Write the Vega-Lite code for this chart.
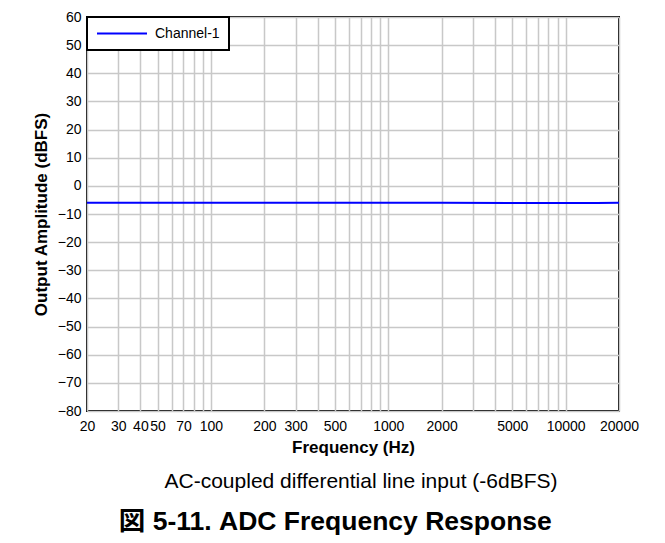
{
  "$schema": "https://vega.github.io/schema/vega-lite/v6.json",
  "autosize": {"type": "pad"},
  "padding": {"left": 31, "top": 9, "right": 10, "bottom": 5},
  "background": "white",
  "title": {
    "text": "図 5-11. ADC Frequency Response",
    "orient": "bottom",
    "anchor": "middle",
    "frame": "bounds",
    "dx": 0,
    "offset": 16,
    "fontSize": 26.5,
    "fontWeight": "bold",
    "font": "Liberation Sans, Noto Sans CJK JP",
    "color": "black"
  },
  "vconcat": [
    {
      "width": 532,
      "height": 394,
      "data": {
        "values": [
          {"freq": 20, "amp": -6.0, "series": "Channel-1"},
          {"freq": 50, "amp": -6.0, "series": "Channel-1"},
          {"freq": 100, "amp": -6.0, "series": "Channel-1"},
          {"freq": 200, "amp": -6.0, "series": "Channel-1"},
          {"freq": 500, "amp": -6.0, "series": "Channel-1"},
          {"freq": 1000, "amp": -6.0, "series": "Channel-1"},
          {"freq": 2000, "amp": -6.0, "series": "Channel-1"},
          {"freq": 5000, "amp": -6.05, "series": "Channel-1"},
          {"freq": 8000, "amp": -6.1, "series": "Channel-1"},
          {"freq": 10000, "amp": -6.1, "series": "Channel-1"},
          {"freq": 15000, "amp": -6.05, "series": "Channel-1"},
          {"freq": 20000, "amp": -6.0, "series": "Channel-1"}
        ]
      },
      "title": {
        "text": "AC-coupled differential line input (-6dBFS)",
        "orient": "bottom",
        "anchor": "middle",
        "frame": "group",
        "dx": 8,
        "offset": 16,
        "fontSize": 21,
        "fontWeight": "normal",
        "font": "Liberation Sans",
        "color": "black"
      },
      "mark": {"type": "line", "color": "#0000ff", "strokeWidth": 2, "clip": true},
      "encoding": {
        "x": {
          "field": "freq",
          "type": "quantitative",
          "scale": {"type": "log", "domain": [20, 20000], "nice": false},
          "axis": {
            "title": "Frequency (Hz)",
            "values": [20,30,40,50,60,70,80,90,100,200,300,400,500,600,700,800,900,1000,2000,3000,4000,5000,6000,7000,8000,9000,10000,20000],
            "labelExpr": "indexof([20,30,40,50,70,100,200,300,500,1000,2000,5000,10000,20000], datum.value) >= 0 ? format(datum.value, 'd') : ''",
            "labelOverlap": false,
            "labelFlush": false,
            "ticks": false,
            "labelPadding": 8,
            "titlePadding": 6
          }
        },
        "y": {
          "field": "amp",
          "type": "quantitative",
          "scale": {"domain": [-80, 60], "nice": false},
          "axis": {
            "title": "Output Amplitude (dBFS)",
            "values": [-80,-70,-60,-50,-40,-30,-20,-10,0,10,20,30,40,50,60],
            "ticks": false,
            "labelPadding": 6,
            "titlePadding": 7
          }
        },
        "color": {
          "field": "series",
          "type": "nominal",
          "scale": {"range": ["#0000ff"]},
          "legend": {
            "title": null,
            "orient": "top-left",
            "offset": 0,
            "padding": 9,
            "symbolType": "stroke",
            "symbolSize": 2500,
            "symbolStrokeWidth": 2,
            "clipHeight": 15,
            "labelFontSize": 14,
            "labelOffset": 7,
            "strokeColor": "black",
            "fillColor": "white",
            "encode": {"legend": {"update": {"strokeWidth": {"value": 2}}}}
          }
        }
      }
    }
  ],
  "config": {
    "font": "Liberation Sans",
    "view": {"stroke": "black", "strokeWidth": 2},
    "axis": {
      "grid": true,
      "gridColor": "#c8c8c8",
      "gridWidth": 1.5,
      "domain": false,
      "labelFontSize": 14,
      "labelColor": "black",
      "labelFont": "Liberation Sans",
      "titleFontSize": 17,
      "titleFontWeight": "bold",
      "titleColor": "black",
      "titleFont": "Liberation Sans"
    },
    "legend": {"labelColor": "black", "labelFont": "Liberation Sans"}
  }
}
